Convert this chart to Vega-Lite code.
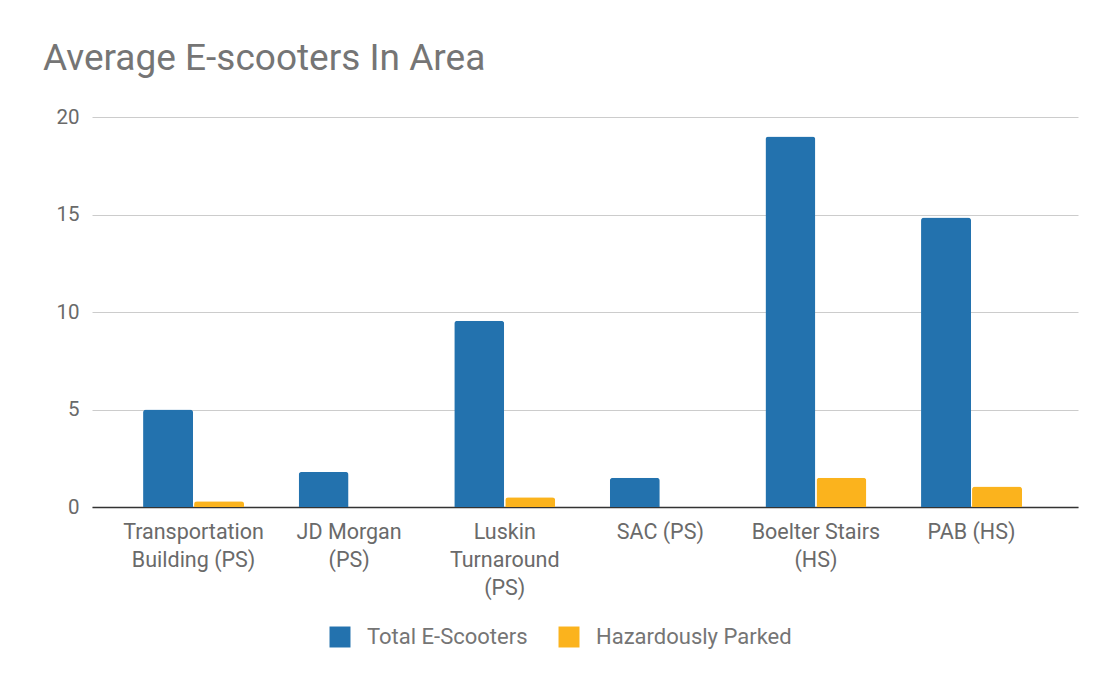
{
  "$schema": "https://vega.github.io/schema/vega-lite/v6.json",
  "autosize": "none",
  "width": 986,
  "height": 390,
  "padding": {"left": 92, "top": 117, "right": 21, "bottom": 175},
  "background": "white",
  "title": {
    "text": "Average E-scooters In Area",
    "anchor": "start",
    "frame": "group",
    "dx": -49,
    "offset": 29,
    "font": "Roboto",
    "fontSize": 37,
    "fontWeight": "normal",
    "color": "#757575"
  },
  "data": {
    "values": [
      {"area": "Transportation|Building (PS)", "series": "Total E-Scooters", "value": 5.0},
      {"area": "Transportation|Building (PS)", "series": "Hazardously Parked", "value": 0.3},
      {"area": "JD Morgan|(PS)", "series": "Total E-Scooters", "value": 1.8},
      {"area": "JD Morgan|(PS)", "series": "Hazardously Parked", "value": 0},
      {"area": "Luskin|Turnaround|(PS)", "series": "Total E-Scooters", "value": 9.55},
      {"area": "Luskin|Turnaround|(PS)", "series": "Hazardously Parked", "value": 0.5},
      {"area": "SAC (PS)", "series": "Total E-Scooters", "value": 1.5},
      {"area": "SAC (PS)", "series": "Hazardously Parked", "value": 0},
      {"area": "Boelter Stairs|(HS)", "series": "Total E-Scooters", "value": 19.0},
      {"area": "Boelter Stairs|(HS)", "series": "Hazardously Parked", "value": 1.5},
      {"area": "PAB (HS)", "series": "Total E-Scooters", "value": 14.85},
      {"area": "PAB (HS)", "series": "Hazardously Parked", "value": 1.05}
    ]
  },
  "mark": {"type": "bar", "cornerRadiusTopLeft": 3, "cornerRadiusTopRight": 3},
  "encoding": {
    "x": {
      "field": "area",
      "type": "nominal",
      "sort": null,
      "title": null,
      "scale": {"paddingInner": 0.351, "paddingOuter": 0.344, "align": 0.477},
      "axis": {
        "labelExpr": "split(datum.label, '|')",
        "labelAngle": 0,
        "labelFont": "Roboto",
        "labelFontSize": 21.5,
        "labelColor": "#6a6a6a",
        "labelLineHeight": 28,
        "labelBaseline": "top",
        "labelPadding": 14,
        "ticks": false,
        "domainColor": "#333333",
        "domainWidth": 1.5,
        "labelLimit": 300
      }
    },
    "xOffset": {
      "field": "series",
      "type": "nominal",
      "sort": ["Total E-Scooters", "Hazardously Parked"],
      "scale": {"paddingInner": 0.02, "paddingOuter": 0}
    },
    "y": {
      "field": "value",
      "type": "quantitative",
      "title": null,
      "scale": {"domain": [0, 20], "nice": false},
      "axis": {
        "values": [0, 5, 10, 15, 20],
        "domain": false,
        "ticks": false,
        "labelFont": "Roboto",
        "labelFontSize": 20.5,
        "labelColor": "#6a6a6a",
        "labelPadding": 13,
        "gridColor": "#cccccc",
        "gridWidth": 1
      }
    },
    "color": {
      "field": "series",
      "type": "nominal",
      "sort": ["Total E-Scooters", "Hazardously Parked"],
      "scale": {"domain": ["Total E-Scooters", "Hazardously Parked"], "range": ["#2372ae", "#fbb31d"]},
      "legend": {
        "title": null,
        "orient": "none",
        "direction": "horizontal",
        "legendX": 237,
        "legendY": 509,
        "symbolType": "square",
        "symbolSize": 440,
        "symbolStrokeWidth": 0,
        "symbolOpacity": 1,
        "labelFont": "Roboto",
        "labelFontSize": 22,
        "labelColor": "#757575",
        "labelOffset": 16,
        "labelLimit": 400,
        "columnPadding": 30
      }
    }
  },
  "config": {"view": {"stroke": null}}
}
